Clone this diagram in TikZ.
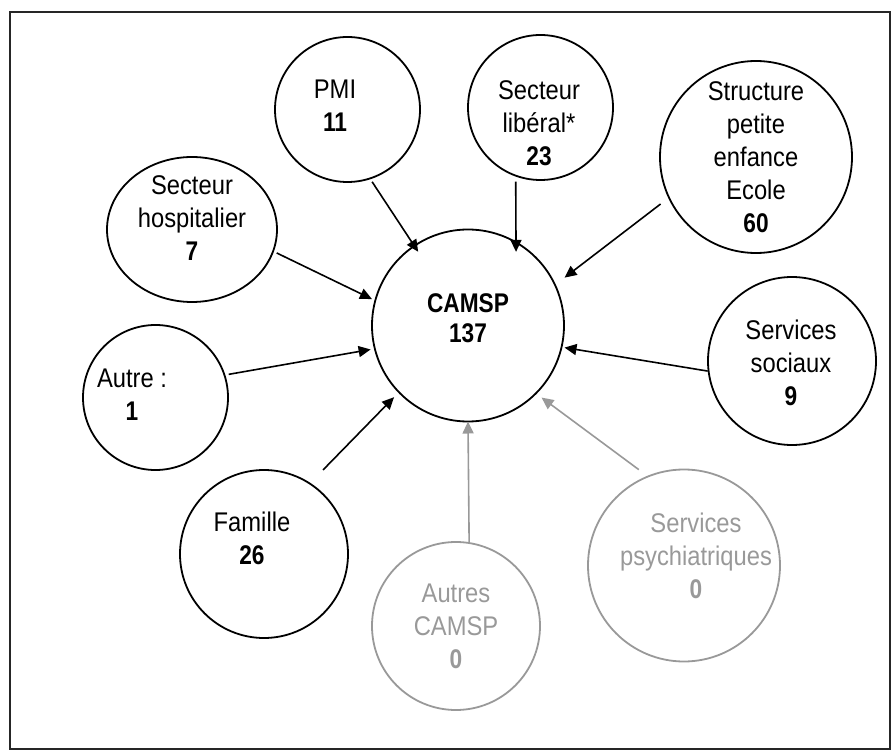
\documentclass[tikz,border=0pt]{standalone}
\usepackage{fontspec}
\setmainfont{Liberation Sans}[FakeStretch=0.88]
\newfontfamily\bfnt{Liberation Sans Bold}[FakeStretch=0.84]
\usetikzlibrary{arrows.meta,shapes.geometric}
\definecolor{gr}{HTML}{999999}
\tikzset{
  circ/.style={circle, draw=black, line width=1.8pt, inner sep=0pt, outer sep=0pt},
  gcirc/.style={circ, draw=gr},
  oval/.style={ellipse, draw=black, line width=1.8pt, inner sep=0pt, outer sep=0pt},
  txt/.style={align=center, inner sep=0pt, font=\fontsize{27}{33}\selectfont},
  gtxt/.style={txt, text=gr},
  arr/.style={line width=1.6pt, draw=black, -{Triangle[length=12pt,width=11pt]}},
  garr/.style={arr, draw=gr, fill=gr},
}
\begin{document}
\begin{tikzpicture}[x=1pt,y=-1pt]
\useasboundingbox (0,0) rectangle (892,751);
\draw[line width=2pt, black!85] (10,12) rectangle (890,749);

% circles
\node[circ, minimum size=192pt] (camsp) at (468,325.5) {};
\node[circ, minimum size=145pt] (pmi) at (347.5,109.5) {};
\node[circ, minimum size=145pt] (lib) at (540.5,107.5) {};
\node[circ, minimum size=192pt] (str) at (756,157) {};
\node[oval, minimum width=170pt, minimum height=145pt] (hosp) at (192,229.5) {};
\node[circ, minimum size=145pt] (autre) at (155.5,397.5) {};
\node[circ, minimum size=168pt] (soc) at (792,361) {};
\node[circ, minimum size=168pt] (fam) at (264,554) {};
\node[gcirc, minimum size=168pt] (acamsp) at (456,626) {};
\node[gcirc, minimum size=192pt] (psy) at (684,565.5) {};

% texts
\node[txt, font=\fontsize{27}{30}\selectfont] (camsp-t) at (468,318) {\bfnt CAMSP\\\bfnt 137};
\node[txt] (pmi-t) at (335,106) {PMI\\\bfnt 11};
\node[txt] (lib-t) at (539,123) {Secteur\\libéral*\\\bfnt 23};
\node[txt] (str-t) at (756,157) {Structure\\petite\\enfance\\Ecole\\\bfnt 60};
\node[txt] (hosp-t) at (192,218) {Secteur\\hospitalier\\\bfnt 7};
\node[txt] (autre-t) at (132,395) {Autre :\\\bfnt 1};
\node[txt] (soc-t) at (791,363) {Services\\sociaux\\\bfnt 9};
\node[txt] (fam-t) at (252,538.5) {Famille\\\bfnt 26};
\node[gtxt] (acamsp-t) at (456,626) {Autres\\CAMSP\\\bfnt 0};
\node[gtxt] (psy-t) at (696,556) {Services\\psychiatriques\\\bfnt 0};

% connectors
\draw[arr, shorten <=4pt, shorten >=-7pt] (pmi.-72.2) -- (camsp.124);
\draw[arr, shorten <=6pt, shorten >=-9.5pt] (lib.250) -- (camsp.60.1);
\draw[arr, shorten <=10.6pt, shorten >=12pt] (str.205.7) -- (camsp.25.7);
\draw[arr, shorten <=4pt, shorten >=3.7pt] (hosp.-15.2) -- (camsp.165.6);
\draw[arr, shorten <=4.3pt, shorten >=4.3pt] (autre.18.9) -- (camsp.194.3);
\draw[arr, shorten <=1pt, shorten >=3pt] (soc.187.2) -- (camsp.-13.4);
\draw[arr, shorten <=19pt, shorten >=7pt] (fam.57.2) -- (camsp.224.9);
\draw[garr] (acamsp.81.8) -- (camsp.270);
\draw[garr, shorten <=11.5pt, shorten >=7pt] (psy.112.5) -- (camsp.-45.1);
\end{tikzpicture}
\end{document}
